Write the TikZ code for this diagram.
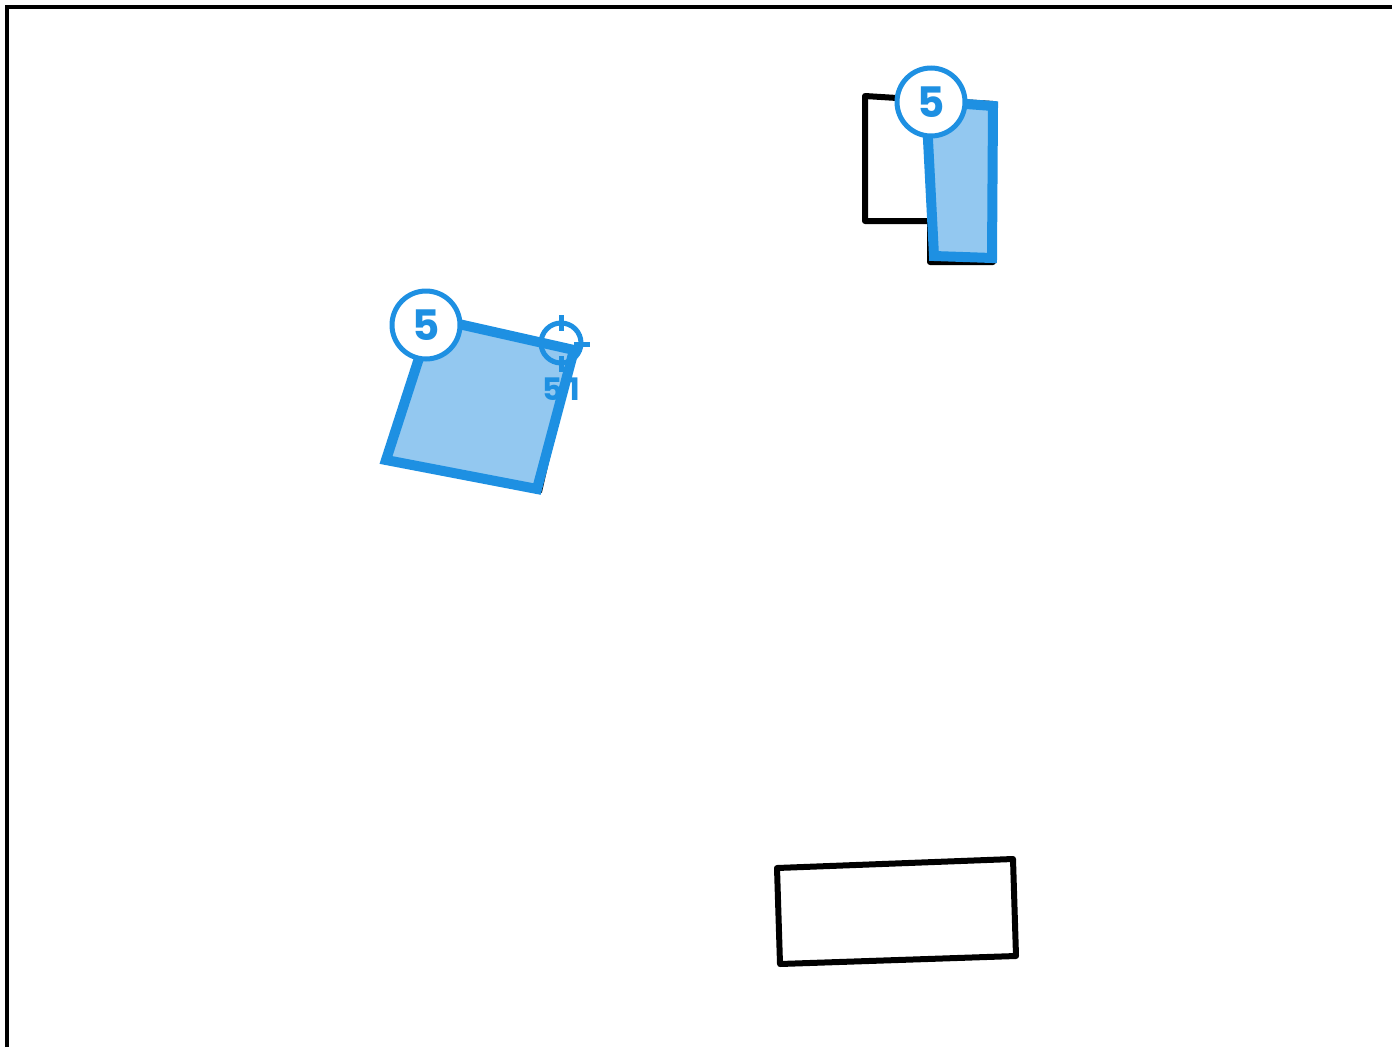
\documentclass[tikz,border=0pt]{standalone}
\usepackage{fontspec}
\setmainfont{Poppins}
\usetikzlibrary{calc}
\definecolor{markblue}{RGB}{30,144,226}
\definecolor{markfill}{RGB}{147,200,240}
\tikzset{
  outline/.style={draw=black,line width=6pt,line join=round,line cap=round},
  marked/.style={draw=markblue,fill=markfill,line width=10pt,line join=miter},
  badge/.style={circle,draw=markblue,fill=white,line width=5pt,minimum size=68pt,
    inner sep=0pt,text=markblue,font=\bfseries\fontsize{42}{42}\selectfont},
  target/.style={draw=markblue,line width=5pt},
}
\begin{document}
\begin{tikzpicture}[x=1pt,y=-1pt]
        \useasboundingbox (0,0) rectangle (1392,1047);
        % frame
        \draw[line width=3.5pt] (7,1047) -- (7,7) -- (1392,7);
        % left object
        \coordinate (A1) at (390,462);
        \coordinate (B1) at (434,320);
        \coordinate (C1) at (572,352);
        \coordinate (D1) at (540,492);
        \draw[outline,line width=4pt] (A1)--(B1)--(C1)--(D1)--cycle;
        \coordinate (A2) at (386,460);
        \coordinate (B2) at (432,318);
        \coordinate (C2) at (574,350);
        \coordinate (D2) at (537,489);
        \path[marked] (A2)--(B2)--(C2)--(D2)--cycle;
        \node[badge] (badgeL) at (426,325) {5};
        % crosshair
        \coordinate (T) at (561,343);
        \draw[target] (T) circle (20);
        \draw[target] ($(T)+(0,-28)$) -- ($(T)+(0,-12)$);
        \draw[target] ($(T)+(13,1)$) -- ($(T)+(29,1)$);
        \draw[target] ($(T)+(0,13)$) -- ($(T)+(0,29)$);
        \node[text=markblue,font=\bfseries\fontsize{31}{31}\selectfont] (tlabel) at (561,389) {5\hspace{6pt}1};
        % right object
        \draw[outline] (865,96) -- (993,104) -- (993,262) -- (930,262) -- (930,221) -- (865,221) -- cycle;
        \coordinate (P) at (926,101);
        \coordinate (Q) at (993,106);
        \coordinate (R) at (992,258);
        \coordinate (S) at (934,256);
        \path[marked] (P)--(Q)--(R)--(S)--cycle;
        \node[badge] (badgeR) at (931,102) {5};
        % bottom object
        \coordinate (E) at (777,868);
        \coordinate (F) at (1013,859);
        \coordinate (G) at (1016,956);
        \coordinate (H) at (780,964);
        \draw[outline] (E)--(F)--(G)--(H)--cycle;
\end{tikzpicture}
\end{document}
